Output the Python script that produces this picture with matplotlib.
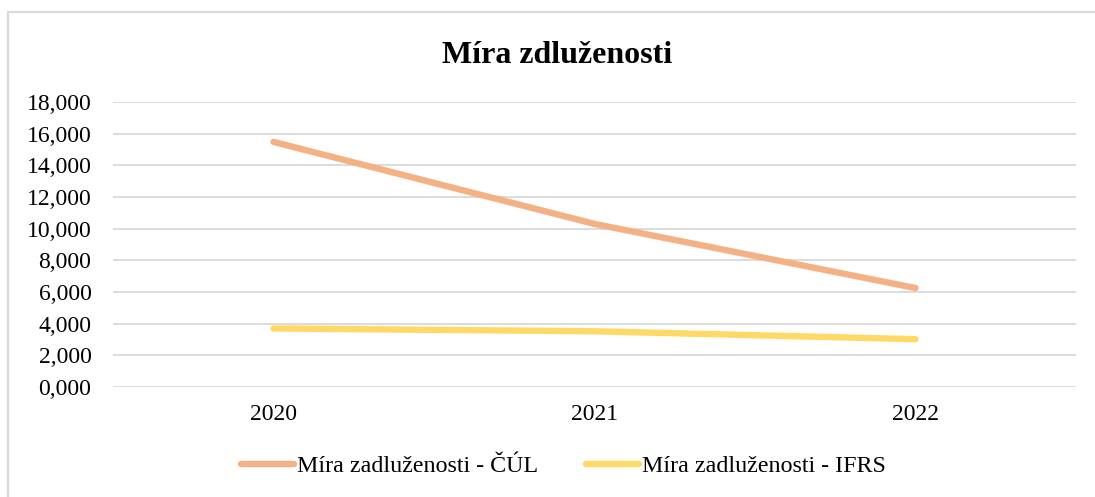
import matplotlib
matplotlib.use("Agg")
import matplotlib.pyplot as plt
from matplotlib.patches import Rectangle

plt.rcParams['font.family'] = ['Liberation Serif', 'DejaVu Serif']

# data
years = ['2020', '2021', '2022']
cul = [15.48, 10.30, 6.25]
ifrs = [3.70, 3.52, 3.02]
y_ticks = [0, 2, 4, 6, 8, 10, 12, 14, 16, 18]
y_labels = ['0,000', '2,000', '4,000', '6,000', '8,000', '10,000',
            '12,000', '14,000', '16,000', '18,000']

W, H = 1095, 497
fig = plt.figure(figsize=(W / 100, H / 100), dpi=100)

# outer chart border (cut at right and bottom like the original)
fig.patches.append(Rectangle((8 / W, -0.1), 2, (H - 12) / H + 0.1,
                             transform=fig.transFigure, fill=False,
                             ec='#D9D9D9', lw=1.6))

ax = fig.add_axes([113 / W, 1 - 387 / H, (1076 - 113) / W, (387 - 102) / H])

x = range(len(years))
l1, = ax.plot(x, cul, color='#F4B183', lw=4.6, solid_capstyle='round',
              label='Míra zadluženosti - ČÚL')
l2, = ax.plot(x, ifrs, color='#FFD966', lw=4.6, solid_capstyle='round',
              label='Míra zadluženosti - IFRS')

ax.set_xlim(-0.5, 2.5)
ax.set_ylim(0, 18)
ax.set_yticks(y_ticks)
ax.set_yticklabels(y_labels)
ax.set_xticks(list(x))
ax.set_xticklabels(years)
ax.tick_params(axis='y', length=0, pad=15.5, labelsize=17)
ax.tick_params(axis='x', length=0, pad=12, labelsize=17)
ax.grid(axis='y', color='#D9D9D9', lw=1.3)
ax.set_axisbelow(True)
for s in ax.spines.values():
    s.set_visible(False)

fig.text(557.5 / W, 1 - 63 / H, 'Míra zdluženosti', ha='center',
         va='baseline', fontsize=23, fontweight='bold')

fig.legend(handles=[l1, l2], loc='center', bbox_to_anchor=(563.5 / W, 1 - 466 / H),
           ncol=2, frameon=False, fontsize=17.3, handlelength=2.2,
           handletextpad=0.12, columnspacing=2.0)

fig.savefig('out.png', dpi=100)
